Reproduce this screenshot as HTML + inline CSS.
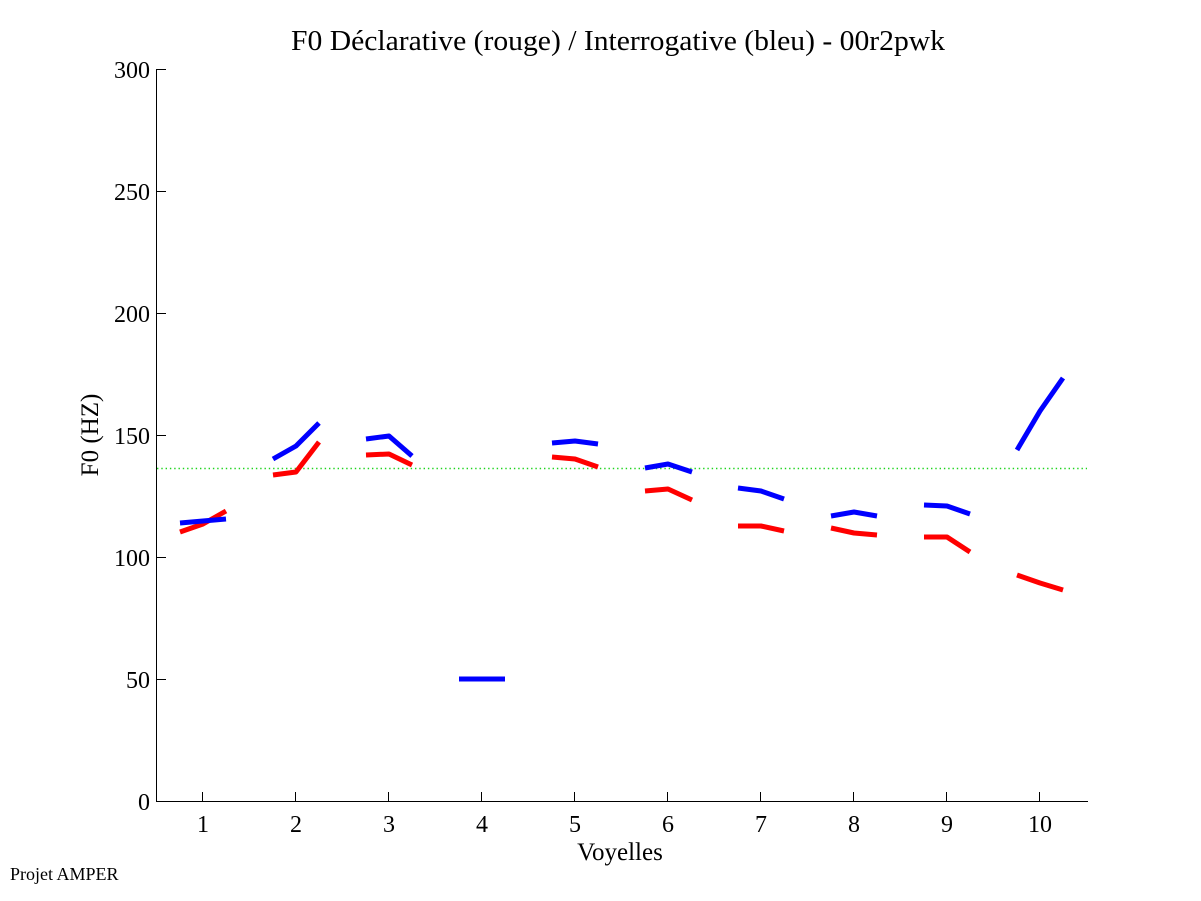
<!DOCTYPE html>
<html>
<head>
<meta charset="utf-8">
<style>
  html, body { margin:0; padding:0; background:#fff; }
  svg { display:block; }
  text { font-family: "Liberation Serif", "Times New Roman", serif; fill:#000; }
</style>
</head>
<body>
<svg width="1201" height="901" viewBox="0 0 1201 901" xmlns="http://www.w3.org/2000/svg">
  <rect x="0" y="0" width="1201" height="901" fill="#fff"/>

  <!-- Title -->
  <text x="618" y="50" font-size="28" text-anchor="middle" textLength="654" lengthAdjust="spacingAndGlyphs">F0 Déclarative (rouge) / Interrogative (bleu) - 00r2pwk</text>

  <!-- Axes -->
  <g stroke="#000" stroke-width="1" fill="none" shape-rendering="crispEdges">
    <line x1="156.5" y1="69" x2="156.5" y2="802"/>
    <line x1="156.5" y1="801.5" x2="1088" y2="801.5"/>
    <!-- y ticks -->
    <line x1="157" y1="801.5" x2="166" y2="801.5"/>
    <line x1="157" y1="679.5" x2="166" y2="679.5"/>
    <line x1="157" y1="557.5" x2="166" y2="557.5"/>
    <line x1="157" y1="435.5" x2="166" y2="435.5"/>
    <line x1="157" y1="313.5" x2="166" y2="313.5"/>
    <line x1="157" y1="191.5" x2="166" y2="191.5"/>
    <line x1="157" y1="69.5" x2="166" y2="69.5"/>
    <!-- x ticks -->
    <line x1="202.5" y1="792" x2="202.5" y2="802"/>
    <line x1="295.5" y1="792" x2="295.5" y2="802"/>
    <line x1="388.5" y1="792" x2="388.5" y2="802"/>
    <line x1="481.5" y1="792" x2="481.5" y2="802"/>
    <line x1="574.5" y1="792" x2="574.5" y2="802"/>
    <line x1="667.5" y1="792" x2="667.5" y2="802"/>
    <line x1="760.5" y1="792" x2="760.5" y2="802"/>
    <line x1="853.5" y1="792" x2="853.5" y2="802"/>
    <line x1="946.5" y1="792" x2="946.5" y2="802"/>
    <line x1="1039.5" y1="792" x2="1039.5" y2="802"/>
  </g>

  <!-- Y tick labels -->
  <g font-size="24" text-anchor="end">
    <text x="150" y="810">0</text>
    <text x="150" y="688">50</text>
    <text x="150" y="566">100</text>
    <text x="150" y="444">150</text>
    <text x="150" y="322">200</text>
    <text x="150" y="200">250</text>
    <text x="150" y="78">300</text>
  </g>

  <!-- X tick labels -->
  <g font-size="24" text-anchor="middle">
    <text x="203" y="832">1</text>
    <text x="296" y="832">2</text>
    <text x="389" y="832">3</text>
    <text x="482" y="832">4</text>
    <text x="575" y="832">5</text>
    <text x="668" y="832">6</text>
    <text x="761" y="832">7</text>
    <text x="854" y="832">8</text>
    <text x="947" y="832">9</text>
    <text x="1040" y="832">10</text>
  </g>

  <!-- Axis labels -->
  <text x="620" y="860" font-size="25" text-anchor="middle">Voyelles</text>
  <text transform="translate(98,435) rotate(-90)" font-size="25" text-anchor="middle">F0 (HZ)</text>

  <!-- Footer -->
  <text x="10" y="880" font-size="18">Projet AMPER</text>

  <!-- Mean line (dotted green) -->
  <line x1="157" y1="468.5" x2="1087" y2="468.5" stroke="#1ed41e" stroke-width="1.6" stroke-dasharray="1.4 2.9"/>

  <!-- Red series (déclarative) -->
  <g stroke="#ff0000" stroke-width="5" fill="none" stroke-linejoin="round" stroke-linecap="butt">
    <polyline points="180,532 203,524 226,511"/>
    <polyline points="273,475 296,472 319,442"/>
    <polyline points="366,455 389,454 412,465"/>
    <polyline points="552,457 575,459 598,467"/>
    <polyline points="645,491 668,489 692,500"/>
    <polyline points="738,526 761,526 784,531"/>
    <polyline points="831,528 854,533 877,535"/>
    <polyline points="924,537 947,537 970,552"/>
    <polyline points="1017,575 1040,583 1063,590"/>
  </g>

  <!-- Blue series (interrogative) -->
  <g stroke="#0000ff" stroke-width="5" fill="none" stroke-linejoin="round" stroke-linecap="butt">
    <polyline points="180,523 203,521 226,519"/>
    <polyline points="273,459 296,446 319,423"/>
    <polyline points="366,439 389,436 412,456"/>
    <polyline points="459,679 482,679 505,679"/>
    <polyline points="552,443 575,441 598,444"/>
    <polyline points="645,468 668,464 692,472"/>
    <polyline points="738,488 761,491 784,499"/>
    <polyline points="831,516 854,512 877,516"/>
    <polyline points="924,505 947,506 970,514"/>
    <polyline points="1017,450 1040,411 1063,378"/>
  </g>
</svg>
</body>
</html>
